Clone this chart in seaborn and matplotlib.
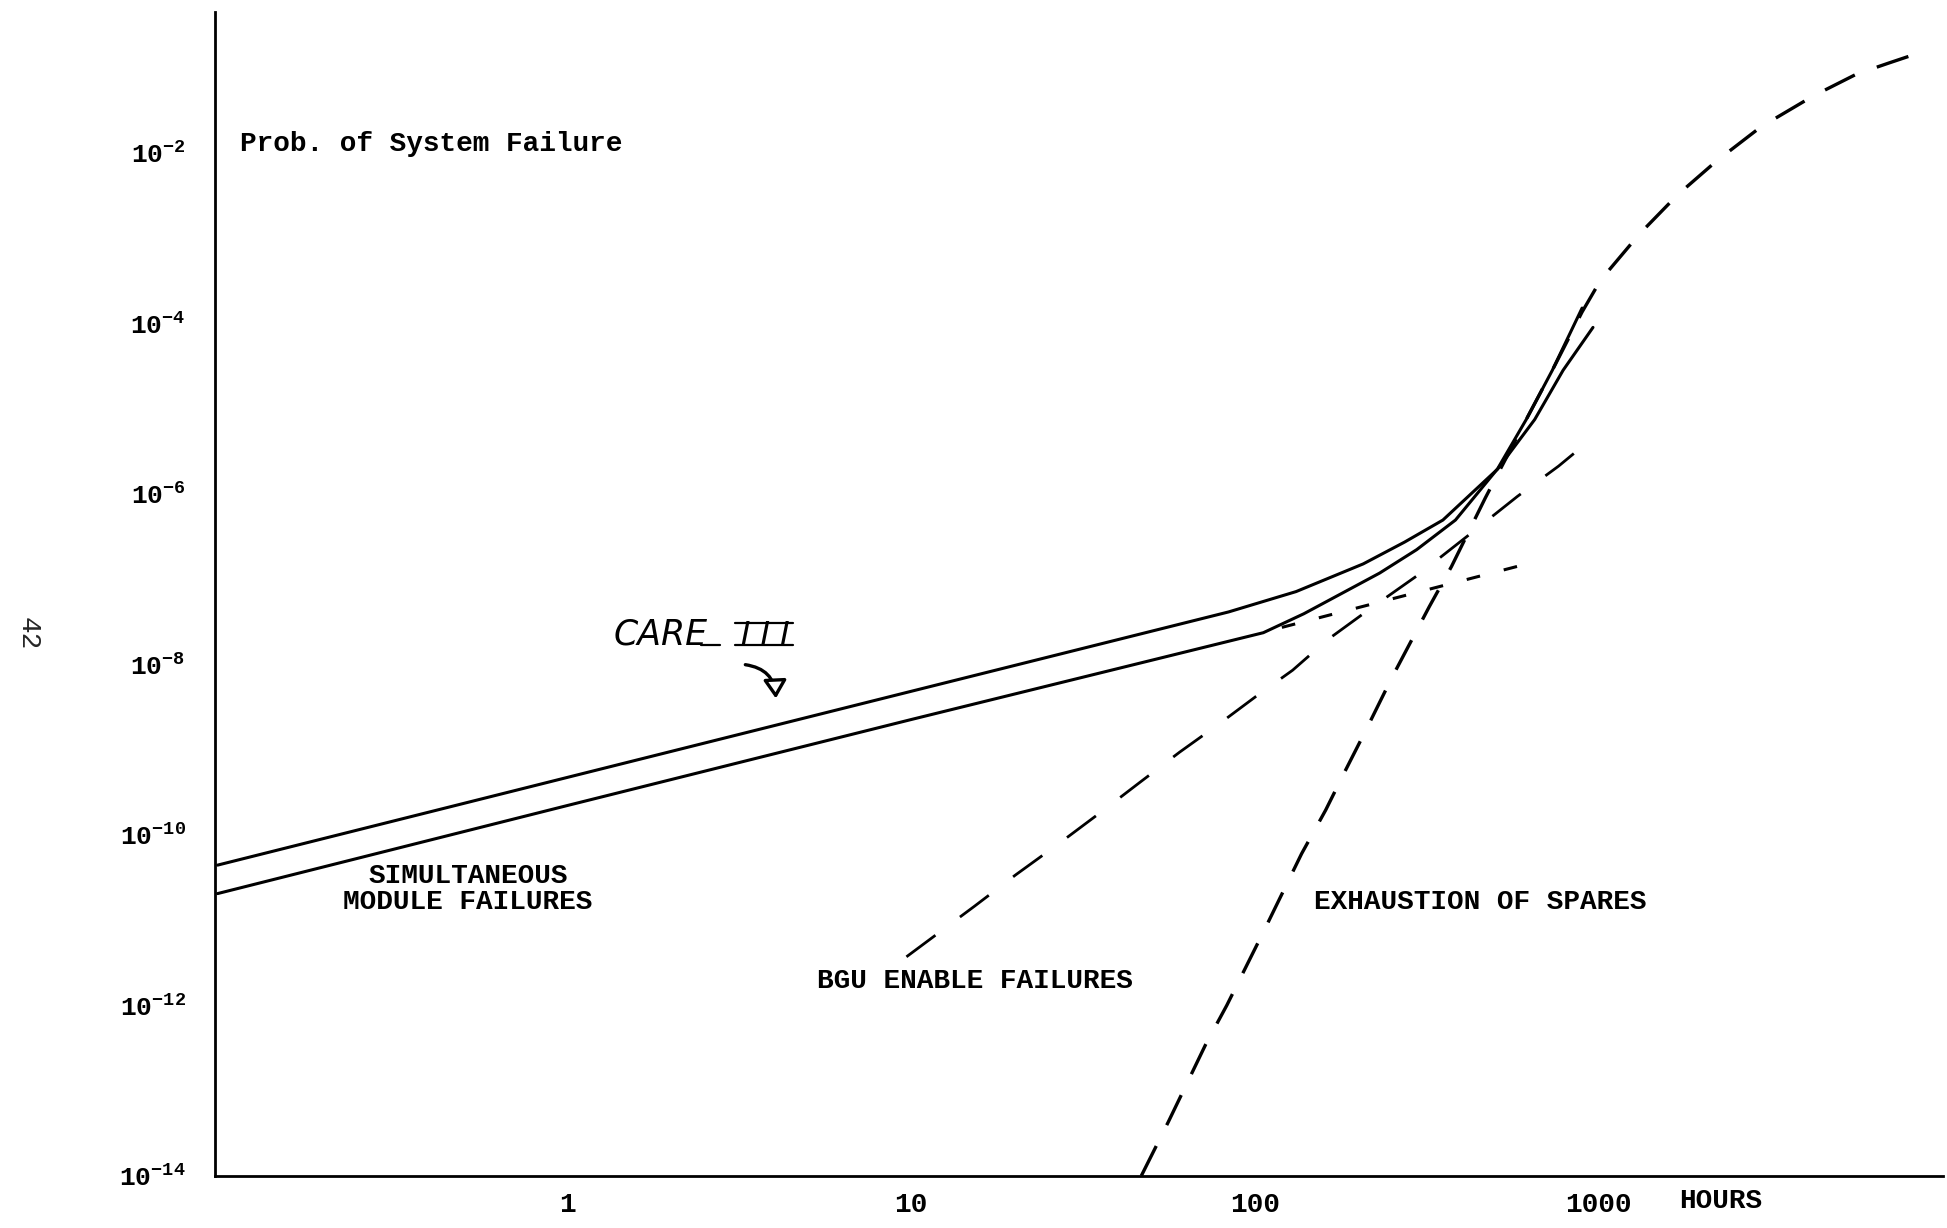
import matplotlib
matplotlib.use("Agg")
import matplotlib.pyplot as plt
from matplotlib.lines import Line2D
from matplotlib.ticker import NullLocator
import pandas as pd
import seaborn as sns

# ---- data (hours vs. probability of system failure) ----
care_hours = [0.096, 1, 10, 84, 132, 207, 273, 353, 510, 653, 790, 965]
care_prob = [4.4e-11, 4.7e-10, 4.8e-9, 4.1e-8, 7.1e-8, 1.5e-7, 2.7e-7,
             4.9e-7, 1.95e-6, 7.4e-6, 2.8e-5, 8.9e-5]

total_hours = [0.096, 1, 10, 106, 139, 231, 296, 384, 509, 617, 735, 897]
total_prob = [2.04e-11, 2.2e-10, 2.24e-9, 2.34e-8, 3.9e-8, 1.17e-7, 2.2e-7,
              4.9e-7, 1.95e-6, 7.4e-6, 2.8e-5, 1.5e-4]

module_hours = [120, 640]
module_prob = [2.7e-8, 1.55e-7]

bgu_hours = [9.7, 15.3, 20.2, 27.2, 36.4, 46.3, 60.5, 78.9, 101, 129, 162,
             214, 295, 417, 582, 766, 982]
bgu_prob = [3.7e-12, 1.45e-11, 3.4e-11, 8.1e-11, 1.95e-10, 4.1e-10, 9.3e-10,
            2.0e-9, 4.2e-9, 8.5e-9, 1.9e-8, 4.3e-8, 1.07e-7, 3.2e-7, 9.3e-7,
            2.1e-6, 4.8e-6]

spares_hours = [46.8, 56.1, 72.1, 83.0, 107, 137, 161, 183, 211, 251, 322,
                374, 469, 617, 735, 897, 1016, 1315, 1702, 2203, 2972, 4217,
                5636, 6998, 8472]
spares_prob = [1e-14, 4.3e-14, 3.5e-13, 1.0e-12, 7.8e-12, 6.0e-11, 1.95e-10,
               5.5e-10, 1.7e-9, 7.0e-9, 4.7e-8, 1.4e-7, 8.9e-7, 7.4e-6,
               2.8e-5, 1.35e-4, 3.2e-4, 1.1e-3, 3.2e-3, 7.9e-3, 2.0e-2,
               4.6e-2, 8.3e-2, 0.112, 0.145]

x_ticks = [1, 10, 100, 1000]
x_tick_labels = ["1", "10", "100", "1000"]
y_exponents = [2, 4, 6, 8, 10, 12, 14]

# ---- style ----
sns.set_style("white")
plt.rcParams["font.family"] = ["Liberation Mono", "DejaVu Sans"]
plt.rcParams["font.weight"] = "bold"
plt.rcParams["mathtext.fontset"] = "custom"
plt.rcParams["mathtext.rm"] = "Liberation Mono:bold"
plt.rcParams["mathtext.it"] = "Liberation Mono:italic:bold"
plt.rcParams["mathtext.bf"] = "Liberation Mono:bold"
plt.rcParams["mathtext.default"] = "rm"

fig = plt.figure(figsize=(19.47, 12.28), dpi=100)
fig.patch.set_facecolor("white")
ax = fig.add_axes([0.1103, 0.0425, 0.8878, 0.9474])
ax.set_xscale("log")
ax.set_yscale("log")


def draw(hours, prob, **kw):
    df = pd.DataFrame({"hours": hours, "prob": prob})
    sns.lineplot(data=df, x="hours", y="prob", ax=ax, color="black",
                 estimator=None, sort=False, legend=False, **kw)


draw(care_hours, care_prob, linewidth=2.2, solid_capstyle="round")
draw(total_hours, total_prob, linewidth=2.2, solid_capstyle="round")
draw(module_hours, module_prob, linewidth=2.2, linestyle=(0, (4.5, 8)))
draw(bgu_hours, bgu_prob, linewidth=2.0, linestyle=(0, (13, 11)))
draw(spares_hours, spares_prob, linewidth=2.4, linestyle=(0, (10, 7)))

ax.set_xlim(0.0942, 10090)
ax.set_ylim(1e-14, 0.44)
ax.set_xlabel("")
ax.set_ylabel("")

# ---- axes ----
for side in ("top", "right"):
    ax.spines[side].set_visible(False)
for side in ("left", "bottom"):
    ax.spines[side].set_linewidth(2.0)
    ax.spines[side].set_color("black")

ax.set_xticks(x_ticks)
ax.set_xticklabels(x_tick_labels)
ax.set_yticks([10.0 ** (-k) for k in y_exponents])
ax.set_yticklabels([r"$10^{-%d}$" % k for k in y_exponents])
ax.xaxis.set_minor_locator(NullLocator())
ax.yaxis.set_minor_locator(NullLocator())
ax.tick_params(axis="x", direction="out", length=7, width=1.6, pad=5,
               labelsize=20, colors="black")
ax.tick_params(axis="y", direction="out", length=3, width=1.6, pad=18,
               labelsize=19, colors="black")

# ---- labels ----
txt = dict(fontsize=20, color="black", fontweight="bold")
ax.text(0.0144, 0.887, "Prob. of System Failure", transform=ax.transAxes,
        ha="left", va="center", **txt)
ax.text(0.514, 2.3e-11, "SIMULTANEOUS\nMODULE FAILURES", ha="center",
        va="center", multialignment="center", linespacing=1.0, **txt)
ax.text(5.33, 1.95e-12, "BGU ENABLE FAILURES", ha="left", va="center", **txt)
ax.text(148.6, 1.62e-11, "EXHAUSTION OF SPARES", ha="left", va="center",
        **txt)
ax.text(1718, -0.0213, "HOURS", transform=ax.get_xaxis_transform(),
        ha="left", va="center", **txt)

fig.text(0.014, 0.484, "42", rotation=-90, fontsize=20, ha="center",
         va="center", fontweight="normal")

# handwritten note pointing to the upper curve
hand = dict(family=["DejaVu Sans"], fontstyle="italic",
            fontweight="normal", color="black")
fig.text(0.3151, 0.4752, "CARE", fontsize=25, va="baseline", ha="left",
         **hand)
fig.text(0.3805, 0.4752, "I I I", fontsize=23, va="baseline", ha="left",
         **hand)
for yb in (0.4927, 0.4747):
    fig.add_artist(Line2D([0.3776, 0.4075], [yb, yb],
                          transform=fig.transFigure, color="black", lw=1.6))
fig.add_artist(Line2D([0.3600, 0.3700], [0.4745, 0.4745],
                      transform=fig.transFigure, color="black", lw=1.6))
ax.annotate("", xy=(0.3985, 0.4290), xytext=(0.3814, 0.4590),
            xycoords="figure fraction", textcoords="figure fraction",
            arrowprops=dict(arrowstyle="-|>,head_length=1.1,head_width=0.7",
                            connectionstyle="arc3,rad=-0.45", color="black",
                            lw=2.4, fc="white"))

fig.savefig("out.png", dpi=100, facecolor="white")
